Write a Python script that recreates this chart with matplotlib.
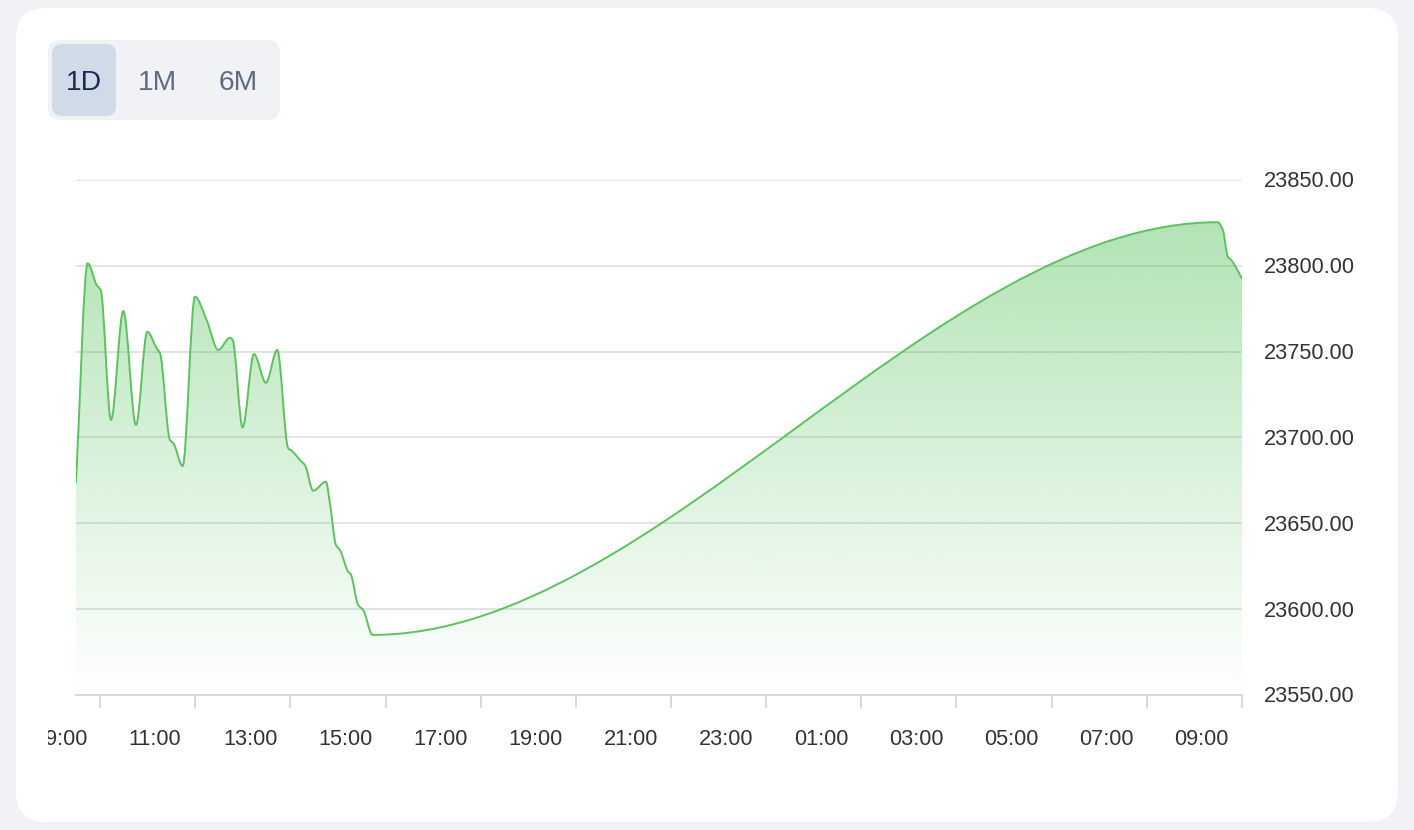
import matplotlib
matplotlib.use("Agg")
import matplotlib.pyplot as plt
import matplotlib.transforms as mtransforms
from matplotlib.patches import FancyBboxPatch, PathPatch
from matplotlib.path import Path
import numpy as np

# ---------------- data (hours after 09:00 of day 1, price) ----------------
hours = [0.34, 0.586, 0.775, 0.859, 1.076, 1.334, 1.601, 1.838, 2.036, 2.105,
         2.315, 2.384, 2.582, 2.840, 3.086, 3.330, 3.576, 3.632, 3.842, 4.080,
         4.332, 4.569, 4.800, 4.872, 5.082, 5.151, 5.326, 5.592, 5.676, 5.803,
         5.887, 6.061, 6.111, 6.271, 6.376, 6.573,
         24.338, 24.443, 24.548, 24.620, 24.846]
prices = [23674.1, 23801.5, 23788.8, 23785.9, 23710.2, 23773.7, 23707.3, 23761.6,
          23752.0, 23749.2, 23698.5, 23696.8, 23683.4, 23782.0, 23768.4, 23751.0,
          23758.1, 23756.8, 23705.9, 23748.6, 23731.9, 23751.0, 23693.7, 23692.3,
          23685.9, 23684.0, 23669.0, 23674.3, 23661.8, 23637.4, 23634.5, 23621.8,
          23620.5, 23602.4, 23599.5, 23585.0,
          23825.4, 23820.9, 23805.3, 23803.4, 23792.7]

label_hours = [0, 2, 4, 6, 8, 10, 12, 14, 16, 18, 20, 22, 24]
x_labels = ["09:00", "11:00", "13:00", "15:00", "17:00", "19:00", "21:00",
            "23:00", "01:00", "03:00", "05:00", "07:00", "09:00"]
tick_hours = [0.845 + 2 * k for k in range(13)]
y_ticks = [23550, 23600, 23650, 23700, 23750, 23800, 23850]
buttons = ["1D", "1M", "6M"]

# ---------------- figure ----------------
W, H = 1414, 830
fig = plt.figure(figsize=(W / 100, H / 100), dpi=100)
fig.patch.set_facecolor("#f1f2f6")
px = mtransforms.Affine2D().scale(1 / W, 1 / H) + fig.transFigure

card = FancyBboxPatch((16, 8), 1382, 814, boxstyle="round,pad=0,rounding_size=30",
                      transform=px, facecolor="white", edgecolor="none", zorder=-3)
fig.patches.append(card)
seg = FancyBboxPatch((48, 710), 232, 80, boxstyle="round,pad=0,rounding_size=13",
                     transform=px, facecolor="#f1f2f6", edgecolor="none", zorder=-2)
fig.patches.append(seg)
sel = FancyBboxPatch((52, 714), 64, 72, boxstyle="round,pad=0,rounding_size=10",
                     transform=px, facecolor="#cfdbe8", edgecolor="none", zorder=-1)
fig.patches.append(sel)
for name, cx, col in zip(buttons, [84, 158, 238.5], ["#1d2951", "#5f6b85", "#5f6b85"]):
    fig.text(cx / W, 1 - 90 / H, name, ha="center", va="baseline", fontsize=20.3,
             color=col, family="Liberation Sans", zorder=3)

ax = fig.add_axes([76 / W, 1 - 695 / H, (1242 - 76) / W, (695 - 180) / H])
ax.set_zorder(5)
ax.set_facecolor("none")
x0, x1 = 0.340, 24.846
ymin, ymax = 23550, 23850

# ---- monotone cubic bezier path through data (smooth line rendering) ----
xs = np.array(hours, float)
ys = np.array(prices, float)
dx = np.diff(xs)
sl = np.diff(ys) / dx
n = len(xs)
m = np.zeros(n)
m[0] = sl[0]
m[-1] = sl[-1]
for i in range(1, n - 1):
    if sl[i - 1] * sl[i] <= 0:
        m[i] = 0.0
    else:
        w1 = 2 * dx[i] + dx[i - 1]
        w2 = dx[i] + 2 * dx[i - 1]
        m[i] = (w1 + w2) / (w1 / sl[i - 1] + w2 / sl[i])
verts = [(xs[0], ys[0])]
codes = [Path.MOVETO]
for i in range(n - 1):
    h = dx[i]
    verts += [(xs[i] + h / 3, ys[i] + m[i] * h / 3),
              (xs[i + 1] - h / 3, ys[i + 1] - m[i + 1] * h / 3),
              (xs[i + 1], ys[i + 1])]
    codes += [Path.CURVE4] * 3
line_path = Path(verts, codes)
fill_verts = verts + [(xs[-1], ymin), (xs[0], ymin), (xs[0], ys[0])]
fill_codes = codes + [Path.LINETO, Path.LINETO, Path.CLOSEPOLY]
fill_path = Path(fill_verts, fill_codes)

green = np.array([88, 195, 94]) / 255
grad = np.zeros((256, 1, 4))
grad[:, 0, :3] = green
grad[:, 0, 3] = np.linspace(0.46, 0.0, 256)
top = max(prices)
im = ax.imshow(grad, extent=[x0, x1, ymin, top], aspect="auto", origin="upper",
               zorder=1, interpolation="bilinear")
clip = PathPatch(fill_path, facecolor="none", edgecolor="none", transform=ax.transData)
ax.add_patch(clip)
im.set_clip_path(clip)
ax.add_patch(PathPatch(line_path, facecolor="none", edgecolor="#5bc25f", lw=1.4,
                       zorder=3, capstyle="round", joinstyle="round"))

ax.set_xlim(x0, x1)
ax.set_ylim(ymin, ymax)
for v in y_ticks[1:]:
    ax.axhline(v, color="#e3e3e3", lw=1.4, zorder=0.5)
for s in ["top", "left", "right"]:
    ax.spines[s].set_visible(False)
ax.spines["bottom"].set_color("#d9d9d9")
ax.spines["bottom"].set_linewidth(1.4)
ax.spines["bottom"].set_zorder(4)
ax.set_yticks([])
ax.set_xticks(tick_hours)
ax.set_xticklabels([])
ax.tick_params(axis="x", length=9, width=1.4, color="#d9d9d9", direction="out")

# x labels (clipped at the chart container edge)
bt = mtransforms.blended_transform_factory(ax.transData, fig.transFigure)
clipbox = mtransforms.TransformedBbox(mtransforms.Bbox.from_extents(48 / W, 0, 1, 1),
                                      fig.transFigure)
for hx, lab in zip(label_hours, x_labels):
    t = fig.text(hx, 1 - 745 / H, lab, transform=bt, ha="center", va="baseline",
                 fontsize=15.7, color="#333333", family="Liberation Sans")
    t.set_clip_on(True)
    t.set_clip_box(clipbox)

# y labels on the right
yt = mtransforms.blended_transform_factory(fig.transFigure, ax.transData) + \
    mtransforms.ScaledTranslation(0, -7.5 / 100, fig.dpi_scale_trans)
for v in y_ticks:
    fig.text(1264 / W, v, f"{v:.2f}", transform=yt, ha="left", va="baseline",
             fontsize=15.7, color="#333333", family="Liberation Sans")

fig.savefig("out.png", dpi=100, facecolor=fig.get_facecolor())
